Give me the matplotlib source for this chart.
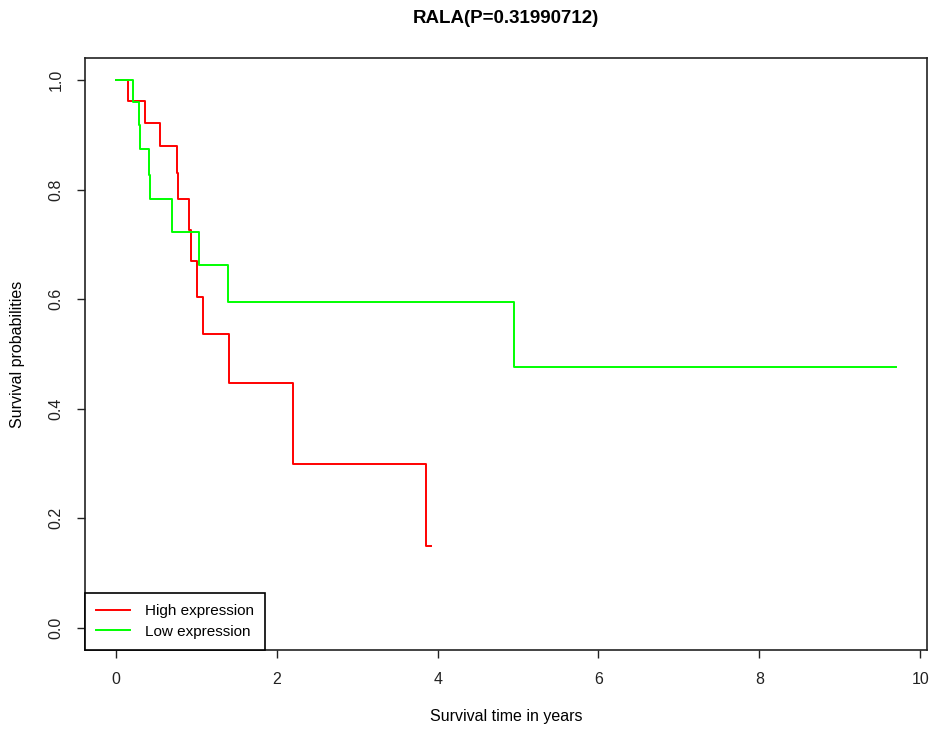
# Kaplan-Meier style survival curves for RALA
import matplotlib
matplotlib.use("Agg")
import matplotlib.pyplot as plt

plt.rcParams['font.family'] = ['Liberation Sans', 'DejaVu Sans']

title = "RALA(P=0.31990712)"
labels = ["High expression", "Low expression"]
colors = ["#ff0000", "#00ff00"]

# step times (years) and survival probabilities
high_t = [0, 0.155, 0.362, 0.547, 0.755, 0.775, 0.912, 0.933, 1.004, 1.086, 1.405, 2.205, 3.856, 3.914]
high_s = [1.0, 0.962, 0.922, 0.880, 0.831, 0.783, 0.727, 0.670, 0.604, 0.537, 0.447, 0.299, 0.149, 0.149]

low_t = [0, 0.215, 0.282, 0.299, 0.41, 0.423, 0.693, 1.032, 1.389, 4.954, 9.70]
low_s = [1.0, 0.959, 0.917, 0.874, 0.827, 0.782, 0.722, 0.662, 0.595, 0.477, 0.477]

xticks = [0, 2, 4, 6, 8, 10]
yticks = [0.0, 0.2, 0.4, 0.6, 0.8, 1.0]

fig = plt.figure(figsize=(9.34, 7.29), dpi=100)
ax = fig.add_axes([0.0905, 0.1084, 0.9025, 0.812])

ax.plot(high_t, high_s, drawstyle='steps-post', color=colors[0], lw=1.4, label=labels[0])
ax.plot(low_t, low_s, drawstyle='steps-post', color=colors[1], lw=1.4, label=labels[1])

ax.set_xlim(-0.39, 10.09)
ax.set_ylim(-0.04, 1.04)
ax.set_xticks(xticks)
ax.set_xticklabels([str(v) for v in xticks])
ax.set_yticks(yticks)
ax.set_yticklabels(["%.1f" % v for v in yticks], rotation=90, va='center')
ax.tick_params(direction='out', length=6, width=1, labelsize=11.5, colors='#222222')
ax.tick_params(axis='x', pad=10)
ax.tick_params(axis='y', pad=9)
for sp in ax.spines.values():
    sp.set_linewidth(1.2)
    sp.set_color('#222222')

ax.set_title(title, fontsize=13.5, fontweight='bold', pad=25)
ax.set_xlabel("Survival time in years", fontsize=11.5, labelpad=16)
ax.set_ylabel("Survival probabilities", fontsize=11.5, labelpad=17)

leg = ax.legend(loc='lower left', borderaxespad=0, fancybox=False, framealpha=1,
                edgecolor='black', fontsize=11, handlelength=2.2, handletextpad=1.0,
                borderpad=0.75, labelspacing=0.4)
leg.get_frame().set_linewidth(1.2)

fig.savefig("out.png", dpi=100)
